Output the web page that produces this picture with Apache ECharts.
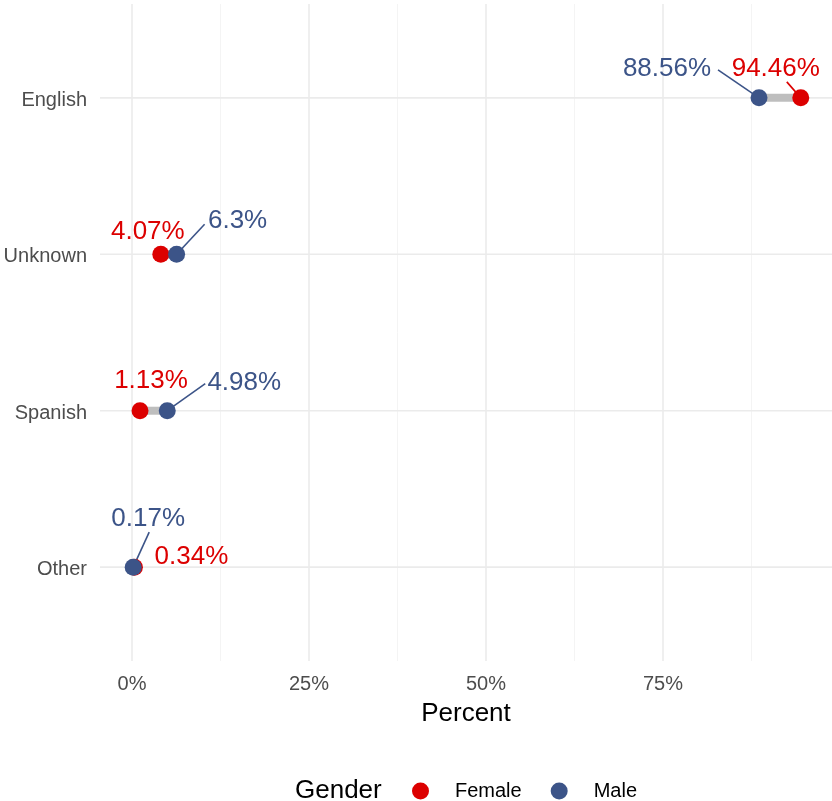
<!DOCTYPE html>
<html>
<head>
<meta charset="utf-8">
<script src="https://cdn.jsdelivr.net/npm/echarts@6/dist/echarts.min.js"></script>
<style>
  html, body { margin: 0; padding: 0; background: #fff; }
  #chart { width: 832px; height: 801px; }
</style>
</head>
<body>
<div id="chart"></div>
<script>
const languages = ['English', 'Unknown', 'Spanish', 'Other'];
const female = [94.46, 4.07, 1.13, 0.34];
const male = [88.56, 6.3, 4.98, 0.17];
const xTicks = [0, 25, 50, 75];
const xMinorTicks = [12.5, 37.5, 62.5, 87.5];

// repelled label offsets (px from point); leader line end (px from point) or null
const femaleLabelOffset = [[-25, -29], [-13, -22], [11, -30], [57, -10]];
const maleLabelOffset = [[-92, -29], [61, -33], [77, -28], [15, -48]];
const femaleLeader = [[-14, -16], null, null, null];
const maleLeader = [[-41, -28], [28, -30], [38, -27], [16, -35]];

const RED = '#DC0000';
const BLUE = '#3C5488';
const FONT = '"Liberation Sans", Arial, sans-serif';
const X_MIN = -4.52, X_MAX = 98.87;
const Y_MIN = 0.4, Y_MAX = 4.6;

function renderGridV(params, api) {
  const v = api.value(0);
  const major = api.value(2);
  const p0 = api.coord([v, Y_MIN]);
  const p1 = api.coord([v, Y_MAX]);
  return {
    type: 'line',
    shape: { x1: p0[0], y1: p0[1], x2: p1[0], y2: p1[1] },
    style: { stroke: major ? '#EBEBEB' : '#F3F3F3', lineWidth: major ? 1.6 : 0.9 }
  };
}

function renderGridH(params, api) {
  const y = api.value(1);
  const p0 = api.coord([X_MIN, y]);
  const p1 = api.coord([X_MAX, y]);
  return {
    type: 'line',
    shape: { x1: p0[0], y1: p0[1], x2: p1[0], y2: p1[1] },
    style: { stroke: '#EBEBEB', lineWidth: 1.6 }
  };
}

function renderSegment(params, api) {
  const y = api.value(1);
  const p0 = api.coord([api.value(0), y]);
  const p1 = api.coord([api.value(2), y]);
  return {
    type: 'line',
    shape: { x1: p0[0], y1: p0[1], x2: p1[0], y2: p1[1] },
    style: { stroke: '#BEBEBE', lineWidth: 8, lineCap: 'butt' }
  };
}

function renderLabel(params, api) {
  const v = api.value(0);
  const y = api.value(1);
  const g = api.value(2);
  const i = y - 1;
  const p = api.coord([v, y]);
  const off = g === 0 ? femaleLabelOffset[i] : maleLabelOffset[i];
  const leader = g === 0 ? femaleLeader[i] : maleLeader[i];
  const color = g === 0 ? RED : BLUE;
  const children = [];
  if (leader) {
    children.push({
      type: 'line',
      shape: { x1: p[0] + leader[0], y1: p[1] + leader[1], x2: p[0], y2: p[1] },
      style: { stroke: color, lineWidth: 1.6 }
    });
  }
  children.push({
    type: 'text',
    x: p[0] + off[0], y: p[1] + off[1],
    style: {
      text: v + '%', fill: color, fontSize: 26, fontFamily: FONT,
      align: 'center', verticalAlign: 'middle'
    }
  });
  return { type: 'group', children: children };
}

const chart = echarts.init(document.getElementById('chart'));
chart.setOption({
  animation: false,
  backgroundColor: '#fff',
  grid: { left: 100, right: 0, top: 4, bottom: 140, outerBoundsMode: 'none' },
  xAxis: {
    type: 'value', min: X_MIN, max: X_MAX,
    name: 'Percent', nameLocation: 'middle', nameGap: 40,
    nameTextStyle: { fontSize: 26, color: '#000', fontFamily: FONT },
    axisLine: { show: false }, axisTick: { show: false }, splitLine: { show: false },
    axisLabel: {
      customValues: xTicks, formatter: v => v + '%',
      margin: 13, fontSize: 20, color: '#4D4D4D', fontFamily: FONT
    }
  },
  yAxis: {
    type: 'value', min: Y_MIN, max: Y_MAX, inverse: true,
    axisLine: { show: false }, axisTick: { show: false }, splitLine: { show: false },
    axisLabel: {
      customValues: languages.map((c, i) => i + 1),
      formatter: v => '{c|' + languages[Math.round(v) - 1] + '}',
      margin: 13,
      rich: {
        c: { fontSize: 20, color: '#4D4D4D', fontFamily: FONT, padding: [5, 0, 0, 0] }
      }
    }
  },
  legend: {
    data: ['Female', 'Male'], icon: 'circle', selectedMode: false,
    left: 412, top: 781, padding: 0, itemWidth: 17, itemHeight: 17, itemGap: 29,
    textStyle: { fontSize: 20, color: '#000', fontFamily: FONT, padding: [0, 0, 0, 21] }
  },
  graphic: [{
    type: 'text', left: 295, top: 778,
    style: { text: 'Gender', fontSize: 26, fill: '#000', fontFamily: FONT }
  }],
  series: [
    {
      type: 'custom', silent: true, z: 0, clip: false,
      data: xTicks.map(v => [v, 1, 1]).concat(xMinorTicks.map(v => [v, 1, 0])),
      renderItem: renderGridV
    },
    {
      type: 'custom', silent: true, z: 0, clip: false,
      data: languages.map((c, i) => [0, i + 1]),
      renderItem: renderGridH
    },
    {
      type: 'custom', silent: true, z: 1,
      data: languages.map((c, i) => [female[i], i + 1, male[i]]),
      renderItem: renderSegment
    },
    {
      type: 'custom', silent: true, z: 2, clip: false,
      data: female.map((v, i) => [v, i + 1, 0]).concat(male.map((v, i) => [v, i + 1, 1])),
      renderItem: renderLabel
    },
    {
      name: 'Female', type: 'scatter', z: 3, symbolSize: 17,
      itemStyle: { color: RED, opacity: 1 },
      data: female.map((v, i) => [v, i + 1])
    },
    {
      name: 'Male', type: 'scatter', z: 4, symbolSize: 17,
      itemStyle: { color: BLUE, opacity: 1 },
      data: male.map((v, i) => [v, i + 1])
    }
  ]
});
</script>
</body>
</html>
